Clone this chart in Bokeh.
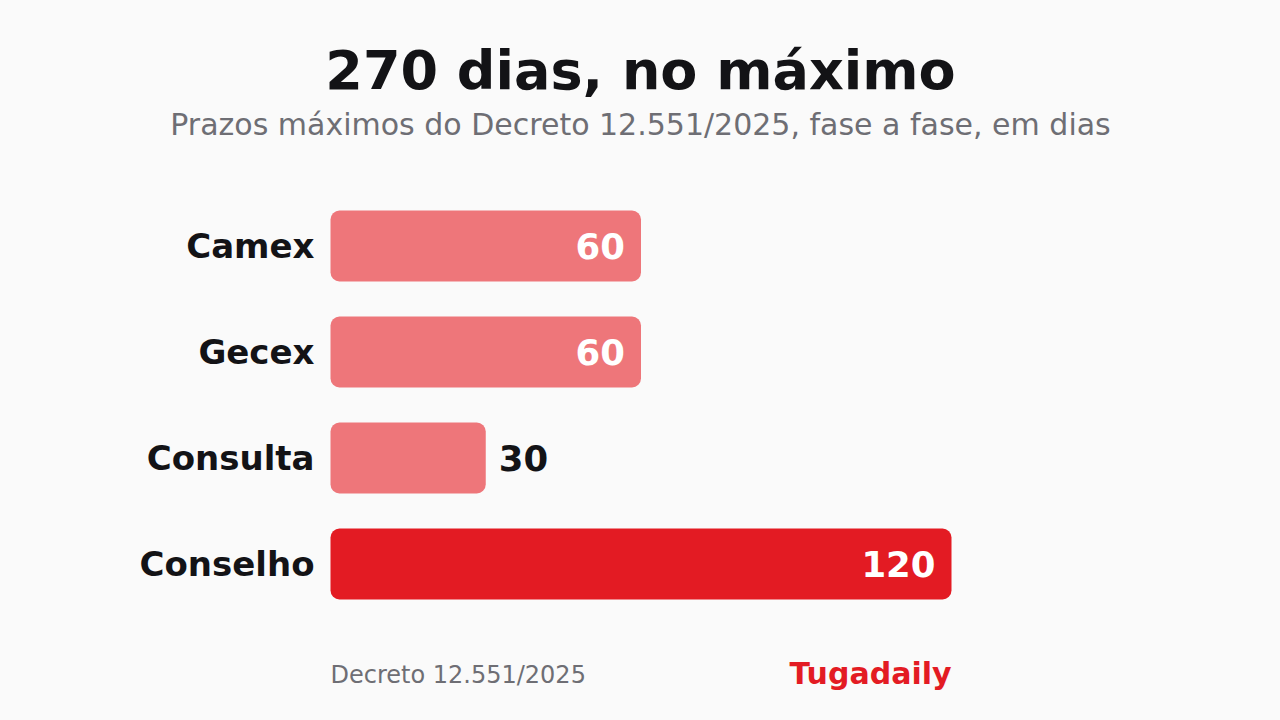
from bokeh.plotting import figure
from bokeh.models import Range1d, ColumnDataSource
from bokeh.core.properties import value
from bokeh.embed import file_html
from bokeh.resources import INLINE

# dados
fases = ["Camex", "Gecex", "Consulta", "Conselho"]
dias = [60, 60, 30, 120]
destaque = [False, False, False, True]

titulo = "270 dias, no máximo"
subtitulo = "Prazos máximos do Decreto 12.551/2025, fase a fase, em dias"
fonte = "Decreto 12.551/2025"
marca = "Tugadaily"

FONT = "DejaVu Sans"
BG = "#fafafa"
RED = "#e31b23"
PINK = "#ee767a"
DARK = "#131316"
GRAY = "#6e6e74"

# escala: 0 dias em x=330px, 5.175 px por dia; categorias a cada 106px
X0, PPD = 330, 621 / 120
Y0, PPU = 245.5, 106


def sx(px):
    return (px - X0) / PPD


def sy(py):
    return (py - Y0) / PPU


W, H = 1280, 720
p = figure(width=W, height=H, output_backend="svg", toolbar_location=None,
           x_range=Range1d(sx(0), sx(W)), y_range=Range1d(sy(H), sy(0)),
           min_border=0, background_fill_color=BG, border_fill_color=BG,
           outline_line_color=None)
p.axis.visible = False
p.grid.visible = False

idx = list(range(len(fases)))
src = ColumnDataSource(dict(
    y=idx, dias=dias, fase=fases,
    cor=[RED if d else PINK for d in destaque],
))
p.hbar(y="y", left=0, right="dias", height=71 / PPU, fill_color="cor",
       line_color=None, border_radius=9, source=src)

# nomes das fases
p.text(x=sx(314), y="y", text="fase", source=src, text_align="right",
       text_baseline="middle", text_font=value(FONT),
       text_font_style="bold", text_font_size="34px", text_color=DARK)

# valores: dentro (branco) ou fora da barra
ins = [i for i, v in enumerate(dias) if v >= 45]
out = [i for i, v in enumerate(dias) if v < 45]
p.text(x=[dias[i] for i in ins], y=ins, text=[str(dias[i]) for i in ins],
       text_align="right", text_baseline="middle", x_offset=-16,
       text_font=value(FONT), text_font_style="bold", text_font_size="35.5px",
       text_color="white")
p.text(x=[dias[i] for i in out], y=out, text=[str(dias[i]) for i in out],
       text_align="left", text_baseline="middle", x_offset=13,
       text_font=value(FONT), text_font_style="bold", text_font_size="35.5px",
       text_color=DARK)

# titulo e subtitulo
p.text(x=[sx(640)], y=[sy(70)], text=[titulo], text_align="center",
       text_baseline="middle", text_font=value(FONT), text_font_style="bold",
       text_font_size="54px", text_color=DARK)
p.text(x=[sx(640)], y=[sy(123.5)], text=[subtitulo], text_align="center",
       text_baseline="middle", text_font=value(FONT),
       text_font_size="30px", text_color=GRAY)

# rodape
p.text(x=[0], y=[sy(674.5)], text=[fonte], text_align="left",
       text_baseline="middle", text_font=value(FONT),
       text_font_size="24px", text_color=GRAY)
p.text(x=[max(dias)], y=[sy(673)], text=[marca], text_align="right",
       text_baseline="middle", text_font=value(FONT), text_font_style="bold",
       text_font_size="30px", text_color=RED)

html = file_html(p, INLINE)
html = html.replace("</head>", "<style>body{background:%s;}</style></head>" % BG, 1)
open("out.html", "w").write(html)
